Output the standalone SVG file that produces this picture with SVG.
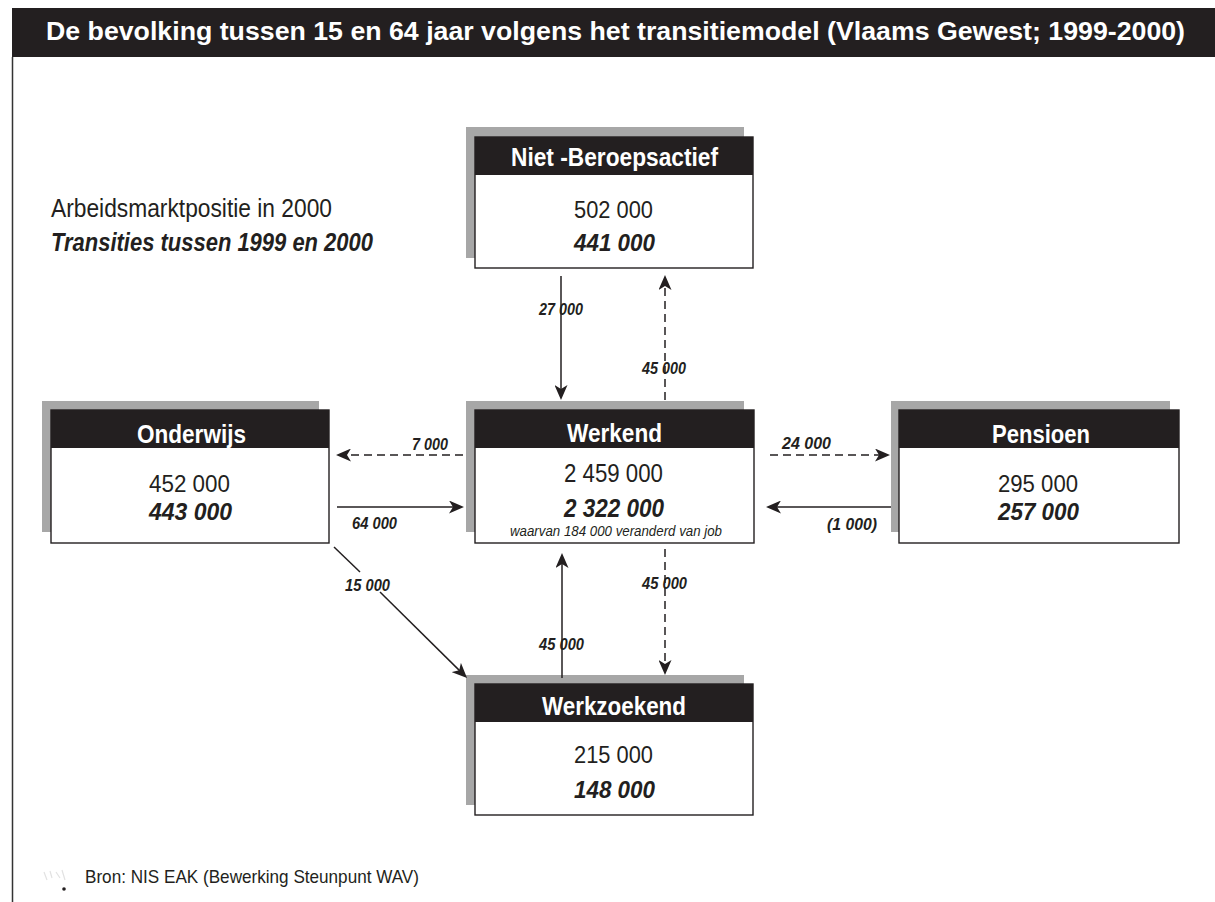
<svg xmlns="http://www.w3.org/2000/svg" width="1215" height="902" viewBox="0 0 1215 902">
<style>
text{font-family:"Liberation Sans",Arial,sans-serif;fill:#231f20}
.title{font-size:26px;font-weight:bold;fill:#fff}
.hdr{font-size:25px;font-weight:bold;fill:#fff}
.num{font-size:24px}
.numb{font-size:24px;font-weight:bold;font-style:italic}
.big{font-size:26px}
.bigb{font-size:26px;font-weight:bold;font-style:italic}
.note{font-size:15px;font-style:italic}
.lbl{font-size:17px;font-weight:bold;font-style:italic}
.leg{font-size:25px}
.legb{font-size:25px;font-weight:bold;font-style:italic}
.src{font-size:19px}
.shadow{fill:#a7a7a7}
.box{fill:#fff;stroke:#231f20;stroke-width:1.4}
.head{fill:#231f20}
.c{fill:none;stroke:#231f20;stroke-width:1.5}
.d{stroke-dasharray:8 5}
</style>
<defs>
<marker id="ah" viewBox="0 0 15 13" refX="12" refY="6.5" markerWidth="15" markerHeight="13" markerUnits="userSpaceOnUse" orient="auto">
<path d="M0,0 L15,6.5 L0,13 L4,6.5 Z" fill="#231f20"/>
</marker>
</defs>
<rect width="1215" height="902" fill="#fff"/>
<g id="title">
<rect x="12" y="8" width="1203" height="49" fill="#231f20"/>
<text class="title" x="46" y="40" textLength="1139" lengthAdjust="spacingAndGlyphs">De bevolking tussen 15 en 64 jaar volgens het transitiemodel (Vlaams Gewest; 1999-2000)</text>
<line x1="12.5" y1="57" x2="12.5" y2="902" stroke="#333" stroke-width="1.5"/>
</g>
<g id="legend">
<text class="leg" x="51" y="217" textLength="281" lengthAdjust="spacingAndGlyphs">Arbeidsmarktpositie in 2000</text>
<text class="legb" x="51" y="251" textLength="322" lengthAdjust="spacingAndGlyphs">Transities tussen 1999 en 2000</text>
</g>
<g id="node-niet-beroepsactief">
<rect class="shadow" x="466" y="127" width="278" height="131"/>
<rect class="box" x="475" y="137" width="278" height="131"/>
<rect class="head" x="475" y="137" width="278" height="38"/>
<text class="hdr" x="511" y="166" textLength="207" lengthAdjust="spacingAndGlyphs">Niet -Beroepsactief</text>
<text class="num" x="574" y="218" textLength="79" lengthAdjust="spacingAndGlyphs">502 000</text>
<text class="numb" x="574" y="251" textLength="81" lengthAdjust="spacingAndGlyphs">441 000</text>
</g>
<g id="node-onderwijs">
<rect class="shadow" x="42" y="401" width="277" height="131"/>
<rect class="box" x="51" y="410" width="278" height="133"/>
<rect class="head" x="51" y="410" width="278" height="38"/>
<text class="hdr" x="137" y="443" textLength="109" lengthAdjust="spacingAndGlyphs">Onderwijs</text>
<text class="num" x="149" y="492" textLength="81" lengthAdjust="spacingAndGlyphs">452 000</text>
<text class="numb" x="149" y="520" textLength="83" lengthAdjust="spacingAndGlyphs">443 000</text>
</g>
<g id="node-werkend">
<rect class="shadow" x="466" y="401" width="278" height="131"/>
<rect class="box" x="475" y="410" width="279" height="133"/>
<rect class="head" x="475" y="410" width="279" height="38"/>
<text class="hdr" x="567" y="442" textLength="95" lengthAdjust="spacingAndGlyphs">Werkend</text>
<text class="big" x="564" y="482" textLength="99" lengthAdjust="spacingAndGlyphs">2 459 000</text>
<text class="bigb" x="564" y="517" textLength="100" lengthAdjust="spacingAndGlyphs">2 322 000</text>
<text class="note" x="510" y="536" textLength="212" lengthAdjust="spacingAndGlyphs">waarvan 184 000 veranderd van job</text>
</g>
<g id="node-pensioen">
<rect class="shadow" x="891" y="401" width="279" height="131"/>
<rect class="box" x="899" y="410" width="280" height="133"/>
<rect class="head" x="899" y="410" width="280" height="38"/>
<text class="hdr" x="992" y="443" textLength="98" lengthAdjust="spacingAndGlyphs">Pensioen</text>
<text class="num" x="998" y="492" textLength="80" lengthAdjust="spacingAndGlyphs">295 000</text>
<text class="numb" x="998" y="520" textLength="81" lengthAdjust="spacingAndGlyphs">257 000</text>
</g>
<g id="node-werkzoekend">
<rect class="shadow" x="466" y="675" width="278" height="130"/>
<rect class="box" x="475" y="684" width="278" height="131"/>
<rect class="head" x="475" y="684" width="278" height="38"/>
<text class="hdr" x="542" y="715" textLength="144" lengthAdjust="spacingAndGlyphs">Werkzoekend</text>
<text class="num" x="574" y="763" textLength="79" lengthAdjust="spacingAndGlyphs">215 000</text>
<text class="numb" x="574" y="798" textLength="81" lengthAdjust="spacingAndGlyphs">148 000</text>
</g>
<g id="connectors">
<line class="c" x1="561" y1="276" x2="561" y2="397" marker-end="url(#ah)"/>
<line class="c d" x1="665" y1="400" x2="665" y2="278" marker-end="url(#ah)"/>
<line class="c d" x1="463" y1="455" x2="339" y2="455" marker-end="url(#ah)"/>
<line class="c" x1="337" y1="507" x2="461" y2="507" marker-end="url(#ah)"/>
<line class="c d" x1="770" y1="455" x2="887" y2="455" marker-end="url(#ah)"/>
<line class="c" x1="891" y1="507" x2="769" y2="507" marker-end="url(#ah)"/>
<line class="c" x1="334" y1="547" x2="360" y2="572"/>
<line class="c" x1="380" y1="592" x2="464.9" y2="675.9" marker-end="url(#ah)"/>
<line class="c" x1="562" y1="678" x2="562" y2="556" marker-end="url(#ah)"/>
<line class="c d" x1="665" y1="549" x2="665" y2="672" marker-end="url(#ah)"/>
<text class="lbl" x="539" y="315" textLength="44" lengthAdjust="spacingAndGlyphs">27 000</text>
<text class="lbl" x="642" y="374" textLength="44" lengthAdjust="spacingAndGlyphs">45 000</text>
<text class="lbl" x="412" y="450" textLength="36" lengthAdjust="spacingAndGlyphs">7 000</text>
<text class="lbl" x="352" y="529" textLength="45" lengthAdjust="spacingAndGlyphs">64 000</text>
<text class="lbl" x="782" y="449" textLength="49" lengthAdjust="spacingAndGlyphs">24  000</text>
<text class="lbl" x="827" y="530" textLength="50" lengthAdjust="spacingAndGlyphs">(1 000)</text>
<text class="lbl" x="345" y="591" textLength="45" lengthAdjust="spacingAndGlyphs">15 000</text>
<text class="lbl" x="642" y="589" textLength="45" lengthAdjust="spacingAndGlyphs">45 000</text>
<text class="lbl" x="539" y="650" textLength="45" lengthAdjust="spacingAndGlyphs">45 000</text>
</g>
<g id="source">
<path d="M44,872 l3,8 M50,871 l2,7 M56,872 l4,6 M62,870 l3,10" stroke="#e2e2e2" stroke-width="1.2" fill="none"/>
<circle cx="64" cy="889" r="1.8" fill="#231f20"/>
<text class="src" x="85" y="883" textLength="334" lengthAdjust="spacingAndGlyphs">Bron: NIS EAK (Bewerking Steunpunt WAV)</text>
</g>
</svg>
